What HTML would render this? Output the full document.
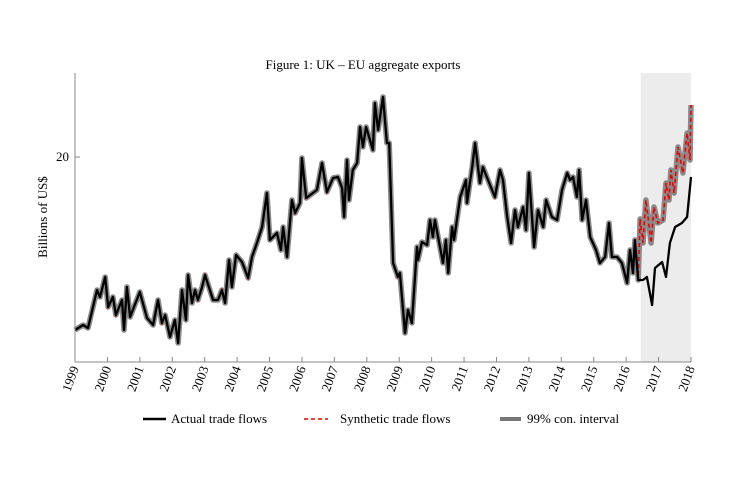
<!DOCTYPE html>
<html><head><meta charset="utf-8"><style>
body{margin:0;background:#fff;width:754px;height:477px;overflow:hidden}
svg{display:block;font-family:"Liberation Serif",serif}
</style></head><body>
<svg id="chart" width="754" height="477">
<text x="363" y="69" text-anchor="middle" font-size="13">Figure 1: UK – EU aggregate exports</text>
<text transform="translate(47,217) rotate(-90)" text-anchor="middle" font-size="13">Billions of US$</text>
<g id="plot"></g>
<g>
<g><line x1="143" y1="419" x2="166" y2="419" stroke="#000" stroke-width="2.5"/><text x="171" y="423" font-size="13">Actual trade flows</text></g>
<g><line x1="304" y1="419" x2="328" y2="419" stroke="#e00" stroke-width="1.5" stroke-dasharray="4,3"/><text x="340" y="423" font-size="13">Synthetic trade flows</text></g>
<g><line x1="500" y1="419" x2="521" y2="419" stroke="#777" stroke-width="4"/><text x="527" y="423" font-size="13">99% con. interval</text></g>
</g>
</svg>
<script>
const times=[1999.00,1999.25,1999.40,1999.68,1999.77,1999.93,2000.02,2000.17,2000.26,2000.45,2000.51,2000.60,2000.70,2001.00,2001.22,2001.41,2001.56,2001.68,2001.78,2001.93,2002.08,2002.18,2002.30,2002.42,2002.49,2002.61,2002.70,2002.79,2002.92,2003.01,2003.26,2003.41,2003.53,2003.63,2003.75,2003.84,2003.97,2004.15,2004.34,2004.46,2004.61,2004.77,2004.92,2005.01,2005.23,2005.35,2005.42,2005.54,2005.69,2005.79,2005.94,2006.00,2006.13,2006.46,2006.62,2006.77,2006.96,2007.11,2007.24,2007.30,2007.39,2007.45,2007.57,2007.70,2007.79,2007.88,2007.98,2008.10,2008.19,2008.25,2008.35,2008.50,2008.62,2008.69,2008.81,2008.96,2009.02,2009.18,2009.27,2009.39,2009.55,2009.58,2009.70,2009.86,2009.95,2010.04,2010.10,2010.20,2010.35,2010.44,2010.51,2010.63,2010.69,2010.88,2011.06,2011.09,2011.25,2011.34,2011.49,2011.58,2011.74,2011.95,2012.11,2012.20,2012.33,2012.45,2012.57,2012.66,2012.82,2012.91,2013.00,2013.16,2013.28,2013.44,2013.53,2013.71,2013.87,2014.02,2014.18,2014.27,2014.36,2014.48,2014.55,2014.64,2014.76,2014.89,2015.07,2015.19,2015.35,2015.47,2015.56,2015.72,2015.87,2016.03,2016.12,2016.21,2016.27,2016.37,2016.52,2016.64,2016.80,2016.89,2017.11,2017.23,2017.35,2017.51,2017.72,2017.88,2018.00];
const actual=[6.16,6.56,6.32,9.36,8.80,10.40,8.00,8.80,7.36,8.56,6.16,9.60,7.20,9.20,7.12,6.56,8.56,6.72,7.36,5.60,6.96,5.12,9.36,6.96,10.56,8.32,9.36,8.56,9.60,10.56,8.56,8.56,9.36,8.32,11.76,9.60,12.16,11.60,10.32,12.00,13.12,14.40,17.12,13.36,13.92,12.56,14.40,12.00,16.56,15.52,16.32,19.92,16.72,17.36,19.52,17.20,18.32,18.40,17.52,15.20,19.76,16.56,18.96,19.52,22.40,20.80,22.40,21.36,20.56,24.32,22.16,24.80,21.12,21.12,11.52,10.40,10.72,5.92,7.76,6.72,12.80,11.76,13.20,12.96,14.96,13.60,14.96,13.60,11.52,13.36,10.72,14.40,13.36,16.80,18.16,16.32,19.20,21.12,17.92,19.20,18.16,16.80,18.96,18.16,15.20,13.12,15.76,14.40,16.00,14.16,18.72,12.80,15.76,14.40,16.56,15.20,14.96,17.36,18.72,18.16,18.40,16.80,18.96,14.96,16.56,13.60,12.56,11.52,12.00,14.72,12.00,12.00,11.52,9.92,12.56,10.72,13.36,10.16,10.16,10.40,8.16,11.12,11.60,10.40,13.12,14.40,14.72,15.20,18.40];
const synthTimes=[2016.37,2016.43,2016.52,2016.61,2016.77,2016.86,2016.98,2017.14,2017.23,2017.32,2017.38,2017.48,2017.60,2017.75,2017.88,2017.97,2018.00];
const synthValues=[10.16,15.04,13.12,16.56,13.12,16.00,14.72,14.96,17.92,16.56,18.96,17.12,20.80,18.72,21.92,19.76,24.16];
const treatmentStart=2016.45;
const yTicks=[20];
const xTicks=[1999,2000,2001,2002,2003,2004,2005,2006,2007,2008,2009,2010,2011,2012,2013,2014,2015,2016,2017,2018];

const L=75,R=691,T=73,B=362;
const x=t=>L+(t-1999)/(2018-1999)*(R-L);
const y=v=>157-(v-20)*12.5;
const NS="http://www.w3.org/2000/svg";
const g=document.getElementById('plot');
function mk(tag,attrs){const e=document.createElementNS(NS,tag);for(const k in attrs)e.setAttribute(k,attrs[k]);g.appendChild(e);return e;}

const shade=mk('rect',{x:x(treatmentStart),y:T,width:R-x(treatmentStart),height:B-T,fill:'#ececec'});



const st=[],sv=[];
times.forEach((t,i)=>{if(t<synthTimes[0]){st.push(t);sv.push(actual[i]);}});
synthTimes.forEach((t,i)=>{st.push(t);sv.push(synthValues[i]);});
const synPts=st.map((t,i)=>x(t).toFixed(1)+','+y(sv[i]).toFixed(1)).join(' ');
const actPts=times.map((t,i)=>x(t).toFixed(1)+','+y(actual[i]).toFixed(1)).join(' ');

const ci=mk('polyline',{points:synPts,fill:'none',stroke:'#8a8a8a','stroke-width':5.5,'stroke-linejoin':'round'});


const syn=mk('polyline',{points:synPts,fill:'none',stroke:'#e00','stroke-width':1.6,'stroke-dasharray':'4,3'});


const act=mk('polyline',{points:actPts,fill:'none',stroke:'#000','stroke-width':2.3,'stroke-linejoin':'round'});



const ax=mk('path',{d:`M${L},${T}V${B}H${R}`,fill:'none',stroke:'#888','stroke-width':1});



yTicks.forEach(v=>{
  mk('line',{x1:L,x2:L+5,y1:y(v),y2:y(v),stroke:'#888'});
  const t=mk('text',{x:L-6,y:y(v)+4,'text-anchor':'end','font-size':13});
  t.textContent=v;
  
  
});
xTicks.forEach(yr=>{
  const px=x(yr);
  mk('line',{x1:px,x2:px,y1:B,y2:B-5,stroke:'#888'});
  const t=mk('text',{transform:`translate(${px+4},${B+6}) rotate(-70)`,'text-anchor':'end','font-size':13});
  t.textContent=yr;
  
  
});
</script>
</body></html>
